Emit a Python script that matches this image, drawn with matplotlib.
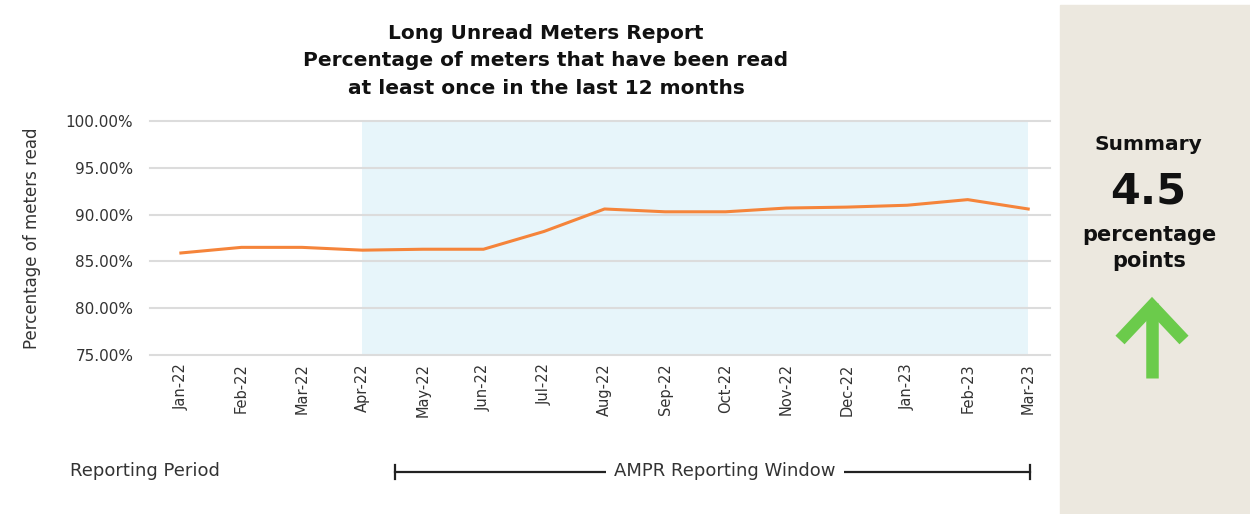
import numpy as np
import matplotlib.pyplot as plt
from matplotlib.ticker import FuncFormatter

months = ["Jan-22", "Feb-22", "Mar-22", "Apr-22", "May-22", "Jun-22", "Jul-22", "Aug-22",
          "Sep-22", "Oct-22", "Nov-22", "Dec-22", "Jan-23", "Feb-23", "Mar-23"]
pct_read = [85.9, 86.5, 86.5, 86.2, 86.3, 86.3, 88.2, 90.6,
            90.3, 90.3, 90.7, 90.8, 91.0, 91.6, 90.6]
window_start, window_end = "Apr-22", "Mar-23"
summary_value = "4.5"

W, H = 1250, 514
fig = plt.figure(figsize=(W / 100, H / 100), dpi=100)
fig.patch.set_facecolor("white")
FONT = "DejaVu Sans"
NARROW = ["Liberation Sans Narrow", "DejaVu Sans"]

# overlay in pixel coordinates for panel, labels and bracket
ov = fig.add_axes([0, 0, 1, 1])
ov.set_xlim(0, W)
ov.set_ylim(H, 0)
ov.axis("off")
ov.add_patch(plt.Rectangle((1060, 5), 190, 509, color="#ECE8DF", zorder=0))

ax = fig.add_axes([150 / W, 1 - 355 / H, 900 / W, 234 / H])
ax.patch.set_alpha(0)
x = np.arange(len(months))
i0, i1 = months.index(window_start), months.index(window_end)
ax.axvspan(i0, i1, color="#E7F5FA", zorder=0, lw=0)
ax.plot(x, pct_read, color="#F5843A", lw=2.2, zorder=3)
ax.set_ylim(75, 100)
ax.set_xlim(-0.51, 14.36)
ax.set_yticks(np.arange(75, 100.1, 5))
ax.yaxis.set_major_formatter(FuncFormatter(lambda v, p: f"{v:.2f}%"))
ax.grid(axis="y", color="#DCDCDC", lw=1.5, zorder=1)
for gl in ax.get_ygridlines():
    gl.set_clip_on(False)
ax.set_axisbelow(True)
ax.set_xticks(x)
ax.set_xticklabels(months, rotation=90, fontsize=10.5, color="#333333", family=FONT)
for lab in ax.get_yticklabels():
    lab.set_fontsize(11)
    lab.set_color("#333333")
    lab.set_family(FONT)
ax.tick_params(axis="y", length=0, pad=12)
ax.tick_params(axis="x", length=0, pad=6)
for s in ax.spines.values():
    s.set_visible(False)
ax.set_ylabel("Percentage of meters read", fontsize=12, color="#333333", family=FONT, labelpad=18)

title = "Long Unread Meters Report\nPercentage of meters that have been read\nat least once in the last 12 months"
ov.text(546, 61, title, ha="center", va="center", fontsize=14.5, fontweight="bold",
        family=FONT, color="#111111", linespacing=1.58)

# bottom annotations
ov.text(70, 471, "Reporting Period", ha="left", va="center", fontsize=13,
        family=NARROW, color="#333333")
ov.plot([395, 1030], [472, 472], color="#222222", lw=1.6)
ov.plot([395, 395], [465, 479], color="#222222", lw=1.6)
ov.plot([1030, 1030], [465, 479], color="#222222", lw=1.6)
ov.text(725, 471, "AMPR Reporting Window", ha="center", va="center", fontsize=13,
        family=NARROW, color="#333333",
        bbox=dict(facecolor="white", edgecolor="none", pad=6))

# summary panel
ov.text(1148, 144, "Summary", ha="center", va="center", fontsize=14.5, fontweight="bold",
        family=FONT, color="#111111")
ov.text(1148, 191, summary_value, ha="center", va="center", fontsize=31, fontweight="bold",
        family=FONT, color="#111111")
ov.text(1149, 248, "percentage\npoints", ha="center", va="center", fontsize=15,
        fontweight="bold", family=FONT, color="#111111", linespacing=1.4)
green = "#6BCB4B"
ov.plot([1152, 1152], [378, 303], color=green, lw=9, solid_capstyle="butt")
ov.plot([1120, 1152, 1184], [340, 306, 340], color=green, lw=9,
        solid_capstyle="butt", solid_joinstyle="miter")

fig.savefig("out.png", dpi=100)
